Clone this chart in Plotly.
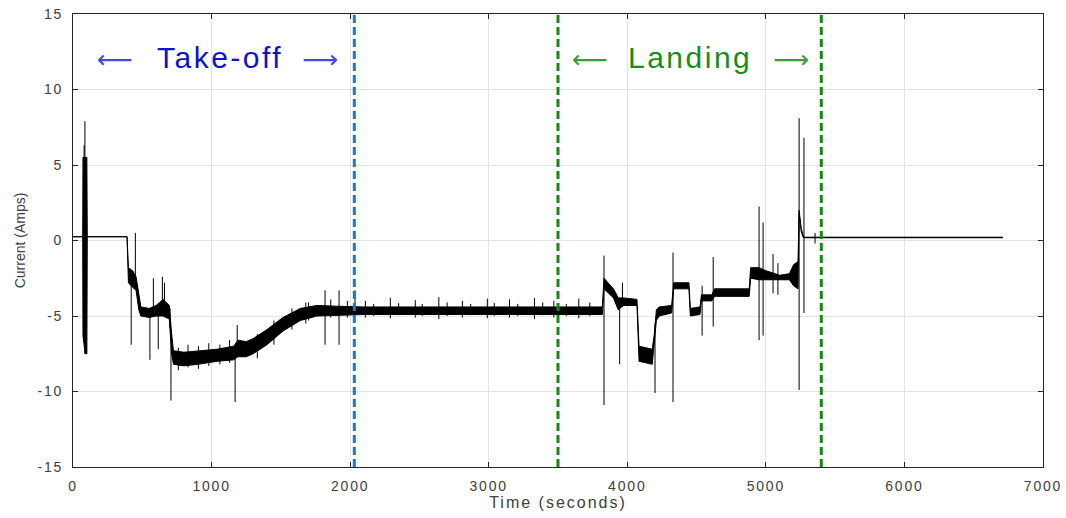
import plotly.graph_objects as go

# ---- envelope of the current trace (seconds, Amps) ----
env_t = [0, 70, 72, 88, 100, 103, 390, 400, 430, 455, 475, 490, 550, 600, 650, 695, 712, 725,
         800, 900, 1040, 1160, 1190, 1250, 1300, 1400, 1515, 1640, 1760, 1900, 2100, 2500,
         3000, 3500, 3820, 3832, 3900, 3935, 3970, 4070, 4085, 4180, 4195, 4210, 4230, 4320,
         4335, 4445, 4455, 4525, 4535, 4610, 4630, 4880, 4890, 4950, 5000, 5100, 5170, 5200,
         5232, 5240, 5255, 5270, 5280, 6710]
env_lo = [0.25, 0.25, -6.3, -7.5, -7.5, 0.25, 0.25, -2.8, -3.1, -3.3, -4.6, -5.0, -5.1, -5.0,
          -5.0, -5.2, -7.5, -8.2, -8.3, -8.2, -8.0, -7.9, -7.7, -7.7, -7.5, -6.9, -6.0, -5.3,
          -5.0, -4.95, -4.9, -4.9, -4.9, -4.9, -4.9, -3.2, -3.8, -4.6, -4.3, -4.3, -8.0, -8.2,
          -6.9, -5.3, -5.0, -4.8, -3.2, -3.2, -5.0, -4.9, -4.0, -4.0, -3.7, -3.7, -2.5, -2.6,
          -2.6, -2.6, -2.6, -3.0, -3.2, 1.8, 0.6, 0.2, 0.18, 0.18]
env_hi = [0.25, 0.25, 5.5, 5.5, 5.5, 0.25, 0.25, -1.8, -2.0, -2.4, -3.6, -4.4, -4.5, -4.3,
          -3.9, -4.3, -6.2, -7.3, -7.4, -7.3, -7.2, -7.0, -6.6, -6.7, -6.5, -5.9, -5.1, -4.5,
          -4.3, -4.35, -4.4, -4.4, -4.4, -4.4, -4.4, -2.5, -3.2, -3.8, -3.8, -3.9, -7.0, -7.2,
          -6.2, -4.6, -4.4, -4.3, -2.8, -2.8, -4.5, -4.4, -3.6, -3.6, -3.2, -3.2, -1.8, -1.8,
          -2.0, -2.3, -2.2, -1.6, -1.4, 2.0, 0.8, 0.3, 0.22, 0.22]

# ---- isolated spikes: time, min, max ----
spike_t = [80, 86, 420, 450, 555, 580, 615, 645, 660, 700, 707, 1170, 1185, 1819, 1920, 2035,
           760, 830, 905, 980, 1060, 1130, 1330, 1450, 1580, 1680, 1700, 1860, 1980,
           2110, 2170, 2290, 2350, 2470, 2520, 2640, 2700, 2810, 2870, 2990, 3040, 3150, 3210,
           3330, 3390, 3470, 3560, 3650, 3730,
           3832, 3945, 3965, 4200, 4330, 4540, 4620, 4951, 4980, 5052, 5087, 5240, 5275, 5355]
spike_lo = [-6.3, -7.5, -6.9, -3.0, -7.9, -5.0, -7.2, -4.5, -4.8, -5.8, -10.6, -10.7, -7.5,
            -6.9, -6.9, -4.8,
            -8.6, -8.4, -8.5, -8.3, -8.2, -8.1, -7.8, -6.9, -5.9, -5.5, -5.3, -5.1, -5.1,
            -5.1, -5.0, -5.15, -4.95, -5.1, -5.0, -5.2, -5.0, -5.1, -4.95, -5.15, -5.0, -5.1,
            -5.0, -5.2, -4.95, -5.1, -5.0, -5.15, -5.0,
            -10.9, -8.2, -4.4, -10.1, -10.7, -6.3, -5.7, -6.6, -6.3, -3.5, -3.6, -9.9, -4.8, -0.2]
spike_hi = [6.3, 7.9, -2.5, 0.5, -4.6, -2.5, -4.5, -2.4, -2.8, -4.5, -6.0, -7.5, -5.6, -3.3,
            -3.3, -3.3,
            -7.1, -6.9, -7.0, -6.8, -6.9, -6.6, -6.2, -5.3, -4.5, -4.1, -4.1, -3.9, -4.0,
            -4.0, -4.2, -3.8, -4.15, -3.95, -4.2, -3.75, -4.1, -4.0, -4.2, -3.85, -4.15, -3.9,
            -4.2, -3.8, -4.1, -4.0, -4.2, -3.85, -4.1,
            -1.0, -4.0, -2.8, -5.5, -0.8, -3.0, -1.1, 2.25, 1.2, -0.9, -1.5, 8.1, 6.8, 0.5]

# ---- phase markers and labels ----
phase_lines = [2030, 3500, 5400]
phase_colors = ["#1a7cc2", "#138a13", "#138a13"]
label_texts = ["Take-off", "Landing"]
label_centers = [1061, 4456]
left_arrows = [300, 3731]
right_arrows = [1782, 5178]
label_colors = ["#1212cc", "#178c17"]
arrow_colors = ["#4848dd", "#3c9c3c"]

x_ticks = [0, 1000, 2000, 3000, 4000, 5000, 6000, 7000]
y_ticks = [-15, -10, -5, 0, 5, 10, 15]

FONT = "Liberation Sans, Arial, Helvetica"


def spaced(s, ls):
    return "<span style='letter-spacing:%spx'>%s</span>" % (ls, s)


fig = go.Figure()
fig.add_trace(go.Scatter(x=env_t, y=env_lo, mode="lines",
                         line=dict(color="black", width=1), hoverinfo="skip", showlegend=False))
fig.add_trace(go.Scatter(x=env_t, y=env_hi, mode="lines", fill="tonexty", fillcolor="black",
                         line=dict(color="black", width=1), hoverinfo="skip", showlegend=False))
sx, sy = [], []
for t, lo, hi in zip(spike_t, spike_lo, spike_hi):
    sx += [t, t, None]
    sy += [lo, hi, None]
fig.add_trace(go.Scatter(x=sx, y=sy, mode="lines", line=dict(color="black", width=1),
                         hoverinfo="skip", showlegend=False))

for xv, col in zip(phase_lines, phase_colors):
    fig.add_shape(type="line", xref="x", yref="paper", x0=xv, x1=xv, y0=0, y1=1,
                  line=dict(color=col, width=3, dash="8px,4px"), layer="above")

for txt, xc, xl, xr, c, ac in zip(label_texts, label_centers, left_arrows, right_arrows,
                                   label_colors, arrow_colors):
    fig.add_annotation(x=xc, y=12.1, xref="x", yref="y", showarrow=False,
                       text=spaced(txt, 2.5), font=dict(family=FONT, size=30, color=c))
    fig.add_annotation(x=xl, y=12.0, xref="x", yref="y", showarrow=False,
                       text="\u27f5", font=dict(family="DejaVu Sans", size=25, color=ac))
    fig.add_annotation(x=xr, y=12.0, xref="x", yref="y", showarrow=False,
                       text="\u27f6", font=dict(family="DejaVu Sans", size=25, color=ac))

axis_common = dict(showgrid=True, gridcolor="#e3e3e3", gridwidth=1, zeroline=False,
                   showline=True, linecolor="#262626", linewidth=1, mirror="ticks",
                   ticks="inside", ticklen=5, tickcolor="#262626", automargin=False,
                   tickfont=dict(family=FONT, size=14, color="#404040"))
fig.update_xaxes(range=[0, 7000], tickvals=x_ticks,
                 ticktext=[spaced(str(v), 1.8) for v in x_ticks], ticklabelstandoff=6,
                 title=dict(text=spaced("Time (seconds)", 2.0), standoff=3,
                            font=dict(family=FONT, size=16, color="#404040")),
                 **axis_common)
fig.update_yaxes(range=[-15, 15], tickvals=y_ticks,
                 ticktext=[spaced(str(v), 1.8) for v in y_ticks], ticklabelstandoff=6,
                 title=dict(text="Current (Amps)", standoff=8,
                            font=dict(family=FONT, size=14, color="#404040")),
                 **axis_common)
fig.update_layout(width=1066, height=518, margin=dict(l=73, r=23, t=14, b=51),
                  plot_bgcolor="white", paper_bgcolor="white")
fig.write_html("out.html")
